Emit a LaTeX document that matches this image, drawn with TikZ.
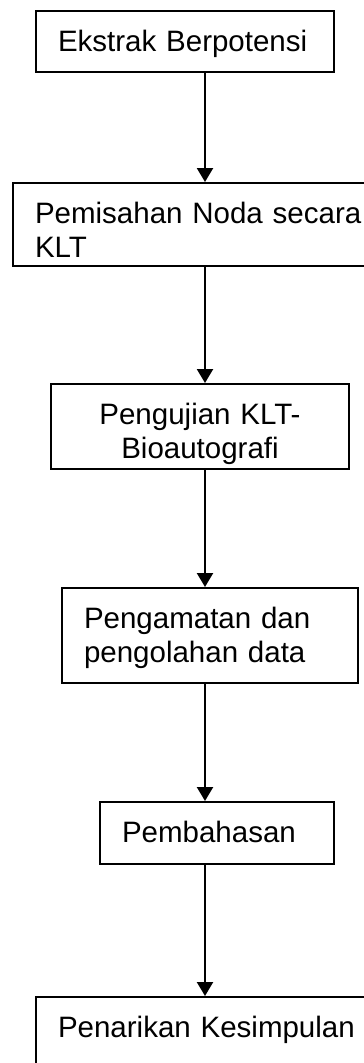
\documentclass[tikz,border=0pt]{standalone}
\usepackage{fontspec}
\setmainfont{Liberation Sans}
\usepackage{tikz}
\usetikzlibrary{arrows.meta}
\tikzset{
  stagebox/.style={
    draw=black,
    line width=2pt,
    anchor=north west,
    inner xsep=22pt,
    inner ysep=19pt,
    text height=21pt,
    align=left,
    font=\fontsize{29.5}{34}\selectfont
  },
  arrow/.style={-{Triangle[width=16pt,length=14pt]},line width=2.2pt,draw=black}
}
\begin{document}
\begin{tikzpicture}[x=1pt,y=-1pt]
    \useasboundingbox (0,0) rectangle (364,1063);
    \coordinate (spine) at (205,0);
    \node[stagebox,text width=254pt,text depth=2pt] (ekstrak) at (35,10) {Ekstrak Berpotensi};
    \node[stagebox,text width=336pt,text depth=24pt] (pemisahan) at (12,182) {Pemisahan Noda secara\\KLT};
    \node[stagebox,text width=254pt,text depth=26pt,align=center] (pengujian) at (50,383) {Pengujian KLT-\\Bioautografi};
    \node[stagebox,text width=252pt,text depth=36pt] (pengamatan) at (61,587) {Pengamatan dan\\pengolahan data};
    \node[stagebox,text width=190pt,text depth=3pt] (pembahasan) at (99,801) {Pembahasan};
    \node[stagebox,text width=316pt,text depth=30pt] (penarikan) at (35,996) {Penarikan Kesimpulan};
    \draw[arrow] (spine |- ekstrak.south) -- (spine |- pemisahan.north);
    \draw[arrow] (spine |- pemisahan.south) -- (spine |- pengujian.north);
    \draw[arrow] (spine |- pengujian.south) -- (spine |- pengamatan.north);
    \draw[arrow] (spine |- pengamatan.south) -- (spine |- pembahasan.north);
    \draw[arrow] (spine |- pembahasan.south) -- (spine |- penarikan.north);
  \end{tikzpicture}
\end{document}
